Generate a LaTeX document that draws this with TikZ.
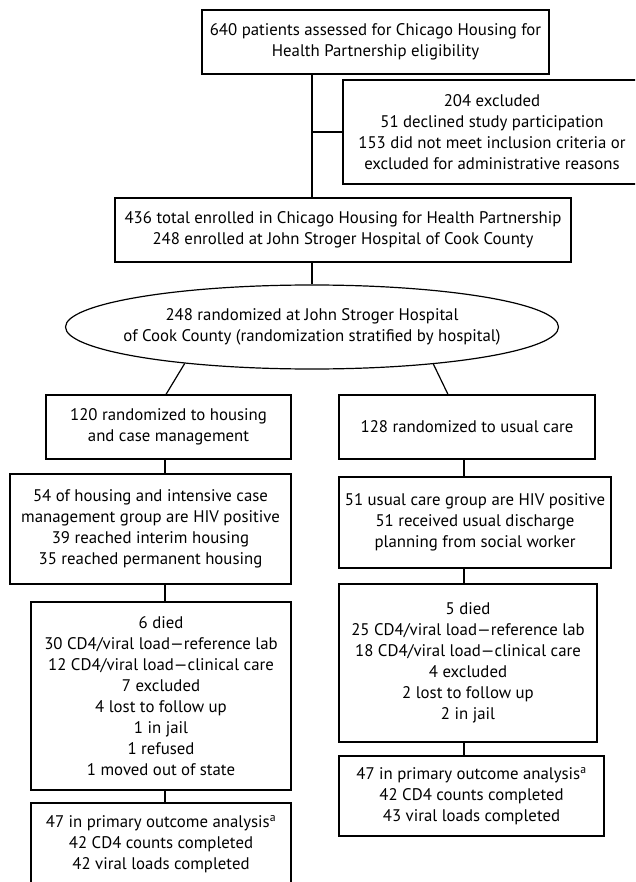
\documentclass[tikz,border=0pt]{standalone}
\usepackage{fontspec}
\setmainfont{PT Sans}
\usetikzlibrary{shapes.geometric}
\begin{document}
\begin{tikzpicture}[x=1pt,y=-1pt,
  box/.style={draw, line width=1.2pt, inner sep=0pt, align=center, font=\fontsize{16.8}{21}\selectfont},
  oval/.style={ellipse, draw, line width=1.2pt, inner sep=0pt},
  txt/.style={inner sep=0pt, align=center, font=\fontsize{16.8}{21}\selectfont},
  conn/.style={line width=1.2pt}]
\useasboundingbox (0,0) rectangle (635,882);
\fill[white] (0,0) rectangle (635,882);
\clip (0,0) rectangle (635,882);
\node[box, minimum width=347pt, minimum height=64pt] (b1) at (375.5,42) {640 patients assessed for Chicago Housing for\\Health Partnership eligibility};
\node[box, minimum width=298pt, minimum height=104pt] (ex) at (492,132) {204 excluded\\51 declined study participation\\153 did not meet inclusion criteria or\\excluded for administrative reasons};
\node[box, minimum width=456pt, minimum height=64pt] (b3) at (343,230) {436 total enrolled in Chicago Housing for Health Partnership\\248 enrolled at John Stroger Hospital of Cook County};
\node[oval, minimum width=493pt, minimum height=84pt] (ell) at (312,327) {};
\node[txt] (ellt) at (ell.center) {248 randomized at John Stroger Hospital\\of Cook County (randomization stratified by hospital)};
\node[box, minimum width=245pt, minimum height=64pt] (L1) at (168.5,427) {120 randomized to housing\\and case management};
\node[box, minimum width=256pt, minimum height=64pt] (R1) at (467,427) {128 randomized to usual care};
\node[box, minimum width=281pt, minimum height=110pt] (L2) at (150.5,529) {54 of housing and intensive case\\management group are HIV positive\\39 reached interim housing\\35 reached permanent housing};
\node[box, minimum width=272pt, minimum height=91pt] (R2) at (475,522.5) {51 usual care group are HIV positive\\51 received usual discharge\\planning from social worker};
\node[box, minimum width=260pt, minimum height=188pt] (L3) at (161,696) {6 died\\30 CD4/viral load—reference lab\\12 CD4/viral load—clinical care\\7 excluded\\4 lost to follow up\\1 in jail\\1 refused\\1 moved out of state};
\node[box, minimum width=258pt, minimum height=158pt] (R3) at (468,663) {5 died\\25 CD4/viral load—reference lab\\18 CD4/viral load—clinical care\\4 excluded\\2 lost to follow up\\2 in jail};
\node[box, minimum width=265pt, minimum height=80pt] (R4) at (471.5,796) {47 in primary outcome analysis\textsuperscript{a}\\42 CD4 counts completed\\43 viral loads completed};
\node[box, minimum width=260pt, minimum height=82pt] (L4) at (161,844) {47 in primary outcome analysis\textsuperscript{a}\\42 CD4 counts completed\\42 viral loads completed};
\coordinate (lx) at (165,0);
\coordinate (rx) at (464,0);
\draw[conn] (ell.north |- b1.south) -- (ell.north |- b3.north);
\draw[conn] (ell.north |- ex.west) -- (ex.west);
\draw[conn] (ell.north |- b3.south) -- (ell.north);
\draw[conn] (ell.196) -- ([xshift=-2.5pt]L1.north);
\draw[conn] (ell.343) -- ([xshift=-19pt]R1.north);
\draw[conn] (L1.south -| lx) -- (L2.north -| lx);
\draw[conn] (L2.south -| lx) -- (L3.north -| lx);
\draw[conn] (L3.south -| lx) -- (L4.north -| lx);
\draw[conn] (R1.south -| rx) -- (R2.north -| rx);
\draw[conn] (R2.south -| rx) -- (R3.north -| rx);
\draw[conn] (R3.south -| rx) -- (R4.north -| rx);
\end{tikzpicture}
\end{document}
